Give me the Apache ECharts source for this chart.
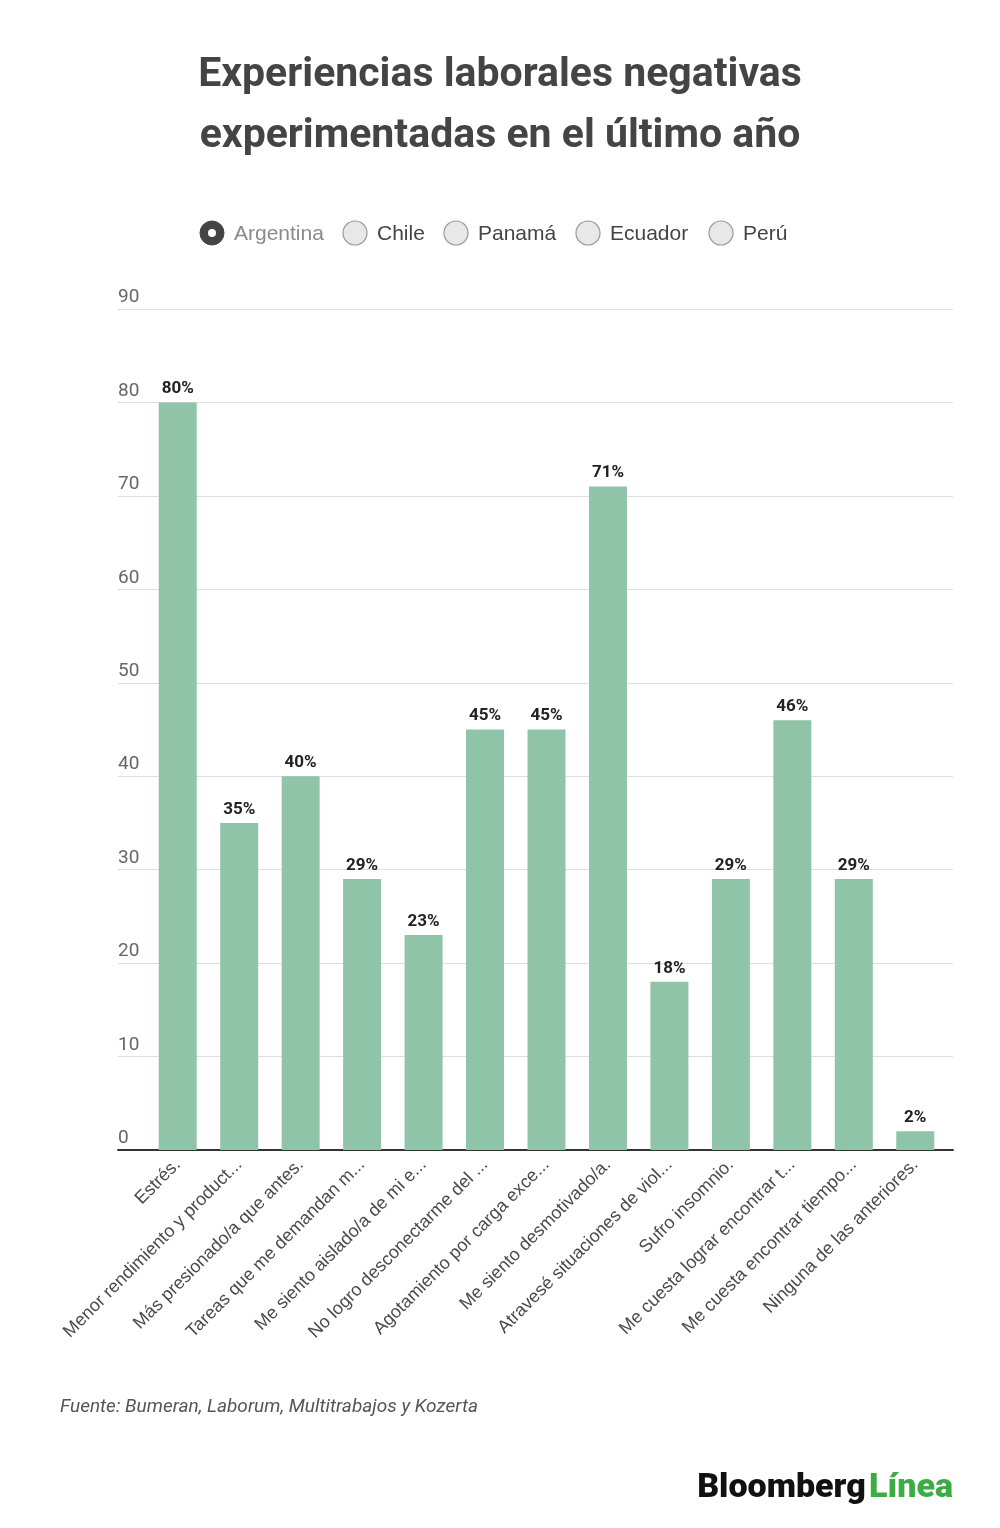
<!DOCTYPE html>
<html>
<head>
<meta charset="utf-8">
<script src="https://cdn.jsdelivr.net/npm/echarts@6/dist/echarts.min.js"></script>
<style>
html,body{margin:0;padding:0;background:#fff;}
#c{width:1000px;height:1528px;}
</style>
</head>
<body>
<div id="c"></div>
<script>
var categories = [
  'Estrés.',
  'Menor rendimiento y product...',
  'Más presionado/a que antes.',
  'Tareas que me demandan m...',
  'Me siento aislado/a de mi e...',
  'No logro desconectarme del ...',
  'Agotamiento por carga exce...',
  'Me siento desmotivado/a.',
  'Atravesé situaciones de viol...',
  'Sufro insomnio.',
  'Me cuesta lograr encontrar t...',
  'Me cuesta encontrar tiempo...',
  'Ninguna de las anteriores.'
];
var argentina = [80, 35, 40, 29, 23, 45, 45, 71, 18, 29, 46, 29, 2];
var legendNames = ['Argentina', 'Chile', 'Panamá', 'Ecuador', 'Perú'];
var yTicks = [0, 10, 20, 30, 40, 50, 60, 70, 80, 90];

var FONT = 'Roboto, "Noto Sans", sans-serif';
var SANS = '"Liberation Sans", Arial, sans-serif';
var chart = echarts.init(document.getElementById('c'), null, {renderer: 'canvas'});

// legend (radio-button style) built with graphic elements
var legendX = [212, 355, 456, 588, 721];
var legendGraphics = [];
legendNames.forEach(function (n, i) {
  var sel = i === 0;
  legendGraphics.push({
    type: 'circle', shape: {cx: legendX[i], cy: 233, r: 12},
    style: sel ? {fill: '#444', stroke: '#444', lineWidth: 1} : {fill: '#e8e8e8', stroke: '#9a9a9a', lineWidth: 1.2}
  });
  if (sel) {
    legendGraphics.push({type: 'circle', shape: {cx: legendX[i], cy: 233, r: 4}, style: {fill: '#fff'}});
  }
  legendGraphics.push({
    type: 'text', x: legendX[i] + 22, y: 234,
    style: {text: n, fill: sel ? '#8a8a8a' : '#444', font: '21px ' + SANS, textVerticalAlign: 'middle', textAlign: 'left'}
  });
});

var option = {
  backgroundColor: '#fff',
  animation: false,
  grid: [
    {left: 118, right: 47, top: 309, bottom: 378},
    {left: 147, right: 54, top: 309, bottom: 378}
  ],
  xAxis: [
    {
      gridIndex: 0, type: 'value', min: 0, max: 1,
      axisLine: {show: true, onZero: false, lineStyle: {color: '#333', width: 2}},
      axisTick: {show: false}, axisLabel: {show: false}, splitLine: {show: false}
    },
    {
      gridIndex: 1, type: 'category', data: categories,
      axisLine: {show: false}, axisTick: {show: false},
      axisLabel: {
        interval: 0, rotate: 45, margin: 12,
        fontFamily: SANS, fontSize: 18, color: '#4a4a4a'
      }
    }
  ],
  yAxis: [
    {
      gridIndex: 0, type: 'value', min: 0, max: 90, interval: 10,
      axisLine: {show: false}, axisTick: {show: false},
      axisLabel: {
        inside: true, margin: 0, verticalAlign: 'bottom', align: 'left',
        padding: [0, 0, 2, 0],
        fontFamily: FONT, fontSize: 19, color: '#666',
        formatter: function (v) { return yTicks.indexOf(v) >= 0 ? String(v) : ''; }
      },
      splitLine: {show: true, lineStyle: {color: '#dedede', width: 1}}
    },
    {
      gridIndex: 1, type: 'value', min: 0, max: 90, interval: 10,
      show: false, splitLine: {show: false}
    }
  ],
  series: [
    {
      name: 'Argentina', type: 'bar', xAxisIndex: 1, yAxisIndex: 1,
      data: argentina,
      barWidth: 38,
      itemStyle: {color: '#8fc4a9'},
      label: {
        show: true, position: 'top', distance: 5,
        formatter: '{c}%',
        fontFamily: FONT, fontSize: 17, fontWeight: 'bold', color: '#222'
      }
    }
  ],
  graphic: legendGraphics.concat([
    {
      type: 'text', x: 500, y: 45,
      style: {
        text: 'Experiencias laborales negativas\nexperimentadas en el último año',
        fill: '#444', font: 'bold 41px ' + FONT, textAlign: 'center', lineHeight: 61
      }
    },
    {
      type: 'text', x: 60, y: 1407,
      style: {text: 'Fuente: Bumeran, Laborum, Multitrabajos y Kozerta', fill: '#555',
        font: 'italic 19px ' + FONT, textVerticalAlign: 'middle', textAlign: 'left'}
    },
    {
      type: 'text', right: 47, top: 1471,
      style: {
        text: '{a|Bloomberg} {b|Línea}',
        rich: {
          a: {fontFamily: FONT, fontSize: 34, fontWeight: 900, fill: '#111', color: '#111'},
          b: {fontFamily: FONT, fontSize: 34, fontWeight: 900, fill: '#3dac45', color: '#3dac45'}
        }
      }
    }
  ])
};
chart.setOption(option);
</script>
</body>
</html>
